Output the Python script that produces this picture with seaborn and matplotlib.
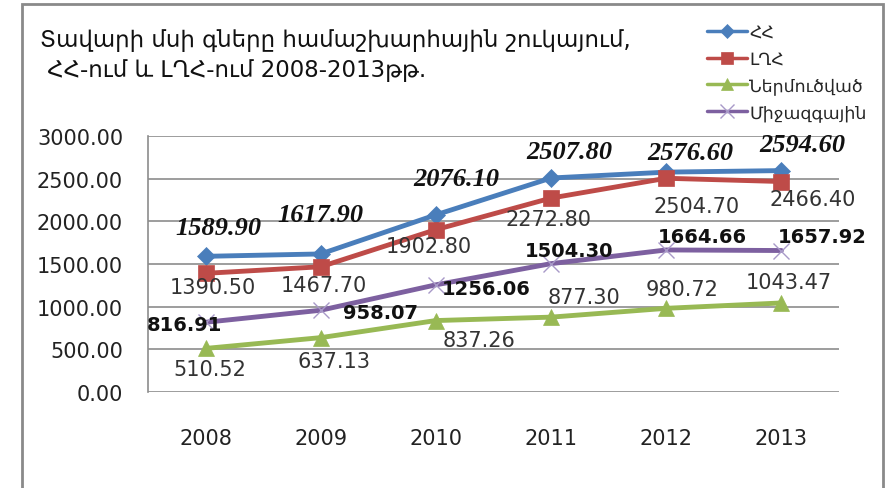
import numpy as np
import pandas as pd
import matplotlib
matplotlib.use('Agg')
import matplotlib.pyplot as plt
import seaborn as sns
from matplotlib.patches import Rectangle
from matplotlib.lines import Line2D

years = [2008, 2009, 2010, 2011, 2012, 2013]
hh = [1589.90, 1617.90, 2076.10, 2507.80, 2576.60, 2594.60]
lgh = [1390.50, 1467.70, 1902.80, 2272.80, 2504.70, 2466.40]
imported = [510.52, 637.13, 837.26, 877.30, 980.72, 1043.47]
intl = [816.91, 958.07, 1256.06, 1504.30, 1664.66, 1657.92]

names = ['ՀՀ', 'ԼՂՀ', 'Ներմուծված', 'Միջազգային']
title = 'Տավարի մսի գները համաշխարհային շուկայում,\n ՀՀ-ում և ԼՂՀ-ում 2008-2013թթ.'

# label offsets in pixels (dx, dy up)
off_hh = [(13, 29), (0, 39), (20, 36), (18, 27), (24, 20), (21, 26)]
off_lgh = [(7, -14), (3, -18), (-7, -16), (-3, -21), (30, -28), (31, -17)]
off_imp = [(4, -21), (13, -23), (43, -19), (33, 20), (16, 19), (7, 21)]
off_int = [(-21, -2), (60, -2), (50, -4), (18, 13), (36, 13), (41, 14)]

sns.set_style('white')
plt.rcParams['font.family'] = ['DejaVu Sans']

fig = plt.figure(figsize=(8.96, 4.89), dpi=100)
ax = fig.add_axes([148/896, 1-393/489, (839-148)/896, (393-137)/489])

df = pd.DataFrame({'year': years, names[0]: hh, names[1]: lgh, names[2]: imported, names[3]: intl})

styles = [
    (names[0], '#4A7EBB', 'D', 9, '#4A7EBB', 0.5),
    (names[1], '#BE4B48', 's', 11, '#BE4B48', 0.5),
    (names[2], '#98B954', '^', 11, '#98B954', 0.5),
    (names[3], '#7D60A0', 'x', 12, '#A899C8', 1),
]
handles = []
for name, col, mk, ms, mec, mew in styles:
    sns.lineplot(data=df, x='year', y=name, ax=ax, color=col, lw=3.5, marker=mk,
                 markersize=ms, markeredgecolor=mec, markeredgewidth=mew, legend=False)
    handles.append(Line2D([], [], color=col, lw=2.5, marker=mk, markersize=ms * 0.8,
                          markeredgecolor=mec, markeredgewidth=mew))

pt = 72 / 100
for x, v, o in zip(years, hh, off_hh):
    ax.annotate(f'{v:.2f}', (x, v), xytext=(o[0]*pt, o[1]*pt), textcoords='offset points',
                ha='center', va='center', fontsize=19, family='Liberation Serif',
                style='italic', weight='bold', color='#111111')
for x, v, o in zip(years, lgh, off_lgh):
    ax.annotate(f'{v:.2f}', (x, v), xytext=(o[0]*pt, o[1]*pt), textcoords='offset points',
                ha='center', va='center', fontsize=15, color='#333333')
for x, v, o in zip(years, imported, off_imp):
    ax.annotate(f'{v:.2f}', (x, v), xytext=(o[0]*pt, o[1]*pt), textcoords='offset points',
                ha='center', va='center', fontsize=15, color='#333333')
for x, v, o in zip(years, intl, off_int):
    ax.annotate(f'{v:.2f}', (x, v), xytext=(o[0]*pt, o[1]*pt), textcoords='offset points',
                ha='center', va='center', fontsize=14, weight='bold', color='#111111')

ax.set_xlim(2007.5, 2013.5)
ax.set_ylim(0, 3000)
ax.set_yticks(np.arange(0, 3001, 500))
ax.set_yticklabels([f'{t:.2f}' for t in np.arange(0, 3001, 500)])
ax.set_xticks(years)
ax.set_xticklabels([str(y) for y in years])
ax.tick_params(axis='y', labelsize=15, pad=18, colors='#222222', length=0)
ax.tick_params(axis='x', labelsize=15, pad=26, colors='#222222', length=0)
ax.set_xlabel('')
ax.set_ylabel('')
ax.grid(axis='y', color='#8C8C8C', lw=1.2)
for s in ['top', 'right', 'bottom']:
    ax.spines[s].set_visible(False)
ax.spines['left'].set_color('#8C8C8C')
ax.spines['left'].set_linewidth(1.2)

fig.legend(handles, names, loc='upper left', bbox_to_anchor=(700/896, 1-17/489), frameon=False,
           fontsize=12.5, handlelength=2.3, handletextpad=0.15, labelspacing=0.5,
           borderaxespad=0)

fig.text(40/896, 1-29/489, title, ha='left', va='top', fontsize=16.5, color='#111111',
         linespacing=1.4)

fig.patches.append(Rectangle((22/896, -0.05), (883-22)/896, 1.05-5/489, transform=fig.transFigure,
                             fill=False, edgecolor='#8A8A8A', lw=2))

fig.savefig('out.png', dpi=100)
